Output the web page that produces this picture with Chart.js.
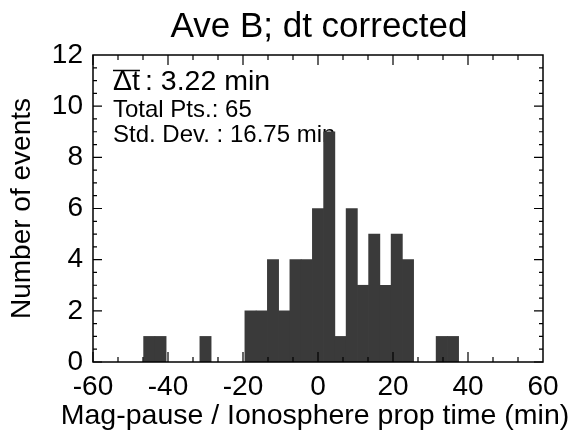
<!DOCTYPE html>
<html>
<head>
<meta charset="utf-8">
<script src="https://cdn.jsdelivr.net/npm/chart.js@4/dist/chart.umd.min.js"></script>
<style>
  body { margin: 0; background: #fff; }
</style>
</head>
<body>
<canvas id="chart" width="573" height="435"></canvas>
<script>
// Histograma: centros de bin (min) y número de eventos
const binCenters = [-45, -42, -30, -18, -15, -12, -9, -6, -3, 0, 3, 6, 9, 12, 15, 18, 21, 24, 33, 36];
const counts     = [1, 1, 1, 2, 2, 4, 2, 4, 4, 6, 9, 1, 6, 3, 5, 3, 5, 4, 1, 1];
const xTicks = [-60, -40, -20, 0, 20, 40, 60];
const yTicks = [0, 2, 4, 6, 8, 10, 12];
const titleText = 'Ave B; dt corrected';
const xTitle = 'Mag-pause / Ionosphere prop time (min)';
const statLines = [': 3.22 min', 'Total Pts.: 65', 'Std. Dev. : 16.75 min'];

const FONT = '"Liberation Sans", Arial, Helvetica, sans-serif';

// Título y texto de estadísticas (debajo de las barras)
const frame = {
  id: 'frame',
  beforeDatasetsDraw(chart) {
    const ctx = chart.ctx, a = chart.chartArea;
    ctx.save();
    ctx.fillStyle = '#000';
    ctx.textBaseline = 'alphabetic';
    ctx.textAlign = 'center';
    ctx.font = '35px ' + FONT;
    ctx.fillText(titleText, (a.left + a.right) / 2 + 1, 37);
    ctx.font = '28.5px ' + FONT;
    ctx.fillText(xTitle, (a.left + a.right) / 2 - 3, 424);
    ctx.textAlign = 'left';
    const x0 = a.left + 20;
    ctx.font = '28.5px ' + FONT;
    ctx.fillText('\u0394t', x0, 90);
    const w = ctx.measureText('\u0394t').width;
    ctx.fillText(statLines[0], x0 + w + 5, 90);
    ctx.strokeStyle = '#000';
    ctx.lineWidth = 1.5;
    ctx.beginPath();
    ctx.moveTo(x0, 70.5);
    ctx.lineTo(x0 + w, 70.5);
    ctx.stroke();
    ctx.font = '24px ' + FONT;
    ctx.fillText(statLines[1], x0, 117);
    ctx.fillText(statLines[2], x0, 142);
    ctx.restore();
  },
  // Marco con marcas hacia dentro en los cuatro lados (estilo IDL)
  afterDatasetsDraw(chart) {
    const ctx = chart.ctx, a = chart.chartArea;
    const xs = chart.scales.x, ys = chart.scales.y;
    ctx.save();
    ctx.strokeStyle = '#000';
    ctx.lineWidth = 1.5;
    ctx.strokeRect(a.left, a.top, a.right - a.left, a.bottom - a.top);
    ctx.lineWidth = 1.2;
    ctx.beginPath();
    for (let i = 0; i < xTicks.length - 1; i++) {
      for (let k = 0; k < 3; k++) {
        const v = xTicks[i] + k * (xTicks[i + 1] - xTicks[i]) / 3;
        const px = xs.getPixelForValue(v);
        const len = k === 0 ? 10 : 5;
        ctx.moveTo(px, a.bottom); ctx.lineTo(px, a.bottom - len);
        ctx.moveTo(px, a.top); ctx.lineTo(px, a.top + len);
      }
    }
    for (let i = 0; i < yTicks.length - 1; i++) {
      for (let k = 0; k < 4; k++) {
        const v = yTicks[i] + k * (yTicks[i + 1] - yTicks[i]) / 4;
        const py = ys.getPixelForValue(v);
        const len = k === 0 ? 9 : 4;
        ctx.moveTo(a.left, py); ctx.lineTo(a.left + len, py);
        ctx.moveTo(a.right, py); ctx.lineTo(a.right - len, py);
      }
    }
    ctx.stroke();
    ctx.restore();
  }
};

new Chart(document.getElementById('chart'), {
  type: 'bar',
  data: {
    datasets: [{
      data: binCenters.map((c, i) => ({ x: c, y: counts[i] })),
      backgroundColor: '#3a3a3a',
      borderWidth: 0,
      barPercentage: 1,
      categoryPercentage: 1
    }]
  },
  options: {
    responsive: false,
    animation: false,
    events: [],
    layout: { padding: { right: 30, left: 0, top: 55, bottom: 0 } },
    plugins: {
      legend: { display: false },
      tooltip: { enabled: false },
      title: { display: false }
    },
    scales: {
      x: {
        type: 'linear',
        min: -60, max: 60,
        offset: false,
        afterBuildTicks: s => { s.ticks = xTicks.map(v => ({ value: v })); },
        afterFit: s => { s.height = 73; },
        grid: { display: false, drawTicks: false },
        border: { display: false },
        ticks: { color: '#000', font: { family: FONT, size: 28 }, padding: 8, maxRotation: 0, autoSkip: false }
      },
      y: {
        min: 0, max: 12,
        afterBuildTicks: s => { s.ticks = yTicks.map(v => ({ value: v })); },
        afterFit: s => { s.width = 93; },
        grid: { display: false, drawTicks: false },
        border: { display: false },
        ticks: { color: '#000', font: { family: FONT, size: 28 }, padding: 10 },
        title: {
          display: true,
          text: 'Number of events',
          color: '#000',
          font: { family: FONT, size: 28 },
          padding: { top: 5, bottom: 0 }
        }
      }
    }
  },
  plugins: [frame]
});
</script>
</body>
</html>
